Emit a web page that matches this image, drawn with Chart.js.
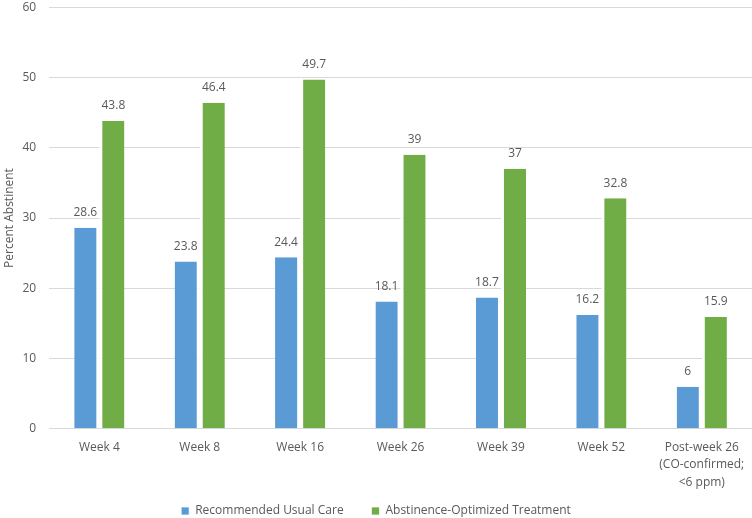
<!DOCTYPE html>
<html lang="en">
<head>
    <meta charset="UTF-8">
    <title>Percent Abstinent</title>
    <script src="https://cdn.jsdelivr.net/npm/chart.js"></script>
    <style>
        body { margin: 0; background: #fff; }
        #wrap { width: 752px; height: 518px; }
    </style>
</head>
<body>
    <div id="wrap"><canvas id="chart"></canvas></div>
    <script>
        const categories = ['Week 4', 'Week 8', 'Week 16', 'Week 26', 'Week 39', 'Week 52',
            ['Post-week 26', '(CO-confirmed;', '<6 ppm)']];
        const usualCare = [28.6, 23.8, 24.4, 18.1, 18.7, 16.2, 6];
        const optimized = [43.8, 46.4, 49.7, 39, 37, 32.8, 15.9];

        const textColor = '#595959';
        Chart.defaults.font.family = '"Open Sans", sans-serif';
        Chart.defaults.font.size = 12;
        Chart.defaults.color = textColor;

        // draw the value above each bar
        const valueLabels = {
            id: 'valueLabels',
            afterDatasetsDraw(chart) {
                const ctx = chart.ctx;
                ctx.save();
                ctx.fillStyle = textColor;
                ctx.font = '12px "Open Sans", sans-serif';
                ctx.textAlign = 'center';
                ctx.textBaseline = 'bottom';
                chart.data.datasets.forEach((ds, i) => {
                    const meta = chart.getDatasetMeta(i);
                    meta.data.forEach((bar, j) => {
                        const shift = i === 0 ? -1.5 : 1.5;
                        ctx.fillText(String(ds.data[j]), bar.x + shift, bar.y - 9);
                    });
                });
                ctx.restore();
            }
        };

        new Chart(document.getElementById('chart'), {
            type: 'bar',
            data: {
                labels: categories,
                datasets: [{
                    label: 'Recommended Usual Care',
                    data: usualCare,
                    backgroundColor: '#5B9BD5',
                    borderColor: '#ffffff',
                    borderWidth: { right: 3, left: 0, top: 0, bottom: 0 },
                    borderSkipped: false
                }, {
                    label: 'Abstinence-Optimized Treatment',
                    data: optimized,
                    backgroundColor: '#70AD47',
                    borderColor: '#ffffff',
                    borderWidth: { left: 3, right: 0, top: 0, bottom: 0 },
                    borderSkipped: false
                }]
            },
            options: {
                responsive: true,
                maintainAspectRatio: false,
                animation: false,
                layout: { padding: { top: 0, left: 0, right: 0, bottom: -9 } },
                categoryPercentage: 0.5,
                barPercentage: 1.0,
                scales: {
                    x: {
                        grid: { display: false },
                        border: { color: '#d9d9d9' },
                        ticks: { color: textColor, maxRotation: 0, padding: 2, font: { lineHeight: 1.45 } },
                        afterFit(scale) { scale.height += 6; }
                    },
                    y: {
                        min: 0,
                        max: 60,
                        ticks: { stepSize: 10, color: textColor, padding: 0 },
                        grid: { color: '#d9d9d9', drawTicks: true, tickLength: 13, tickColor: 'rgba(0,0,0,0)' },
                        border: { display: false },
                        title: { display: true, text: 'Percent Abstinent', color: textColor, font: { size: 12 }, padding: { top: 2, bottom: 6 } }
                    }
                },
                plugins: {
                    legend: {
                        position: 'bottom',
                        labels: {
                            boxWidth: 8, boxHeight: 8, padding: 6, color: textColor,
                            // wider gap between the two legend items
                            generateLabels(chart) {
                                const items = Chart.defaults.plugins.legend.labels.generateLabels(chart);
                                items[0].text += '       ';
                                return items;
                            }
                        }
                    },
                    tooltip: { enabled: false }
                }
            },
            plugins: [valueLabels]
        });
    </script>
</body>
</html>
